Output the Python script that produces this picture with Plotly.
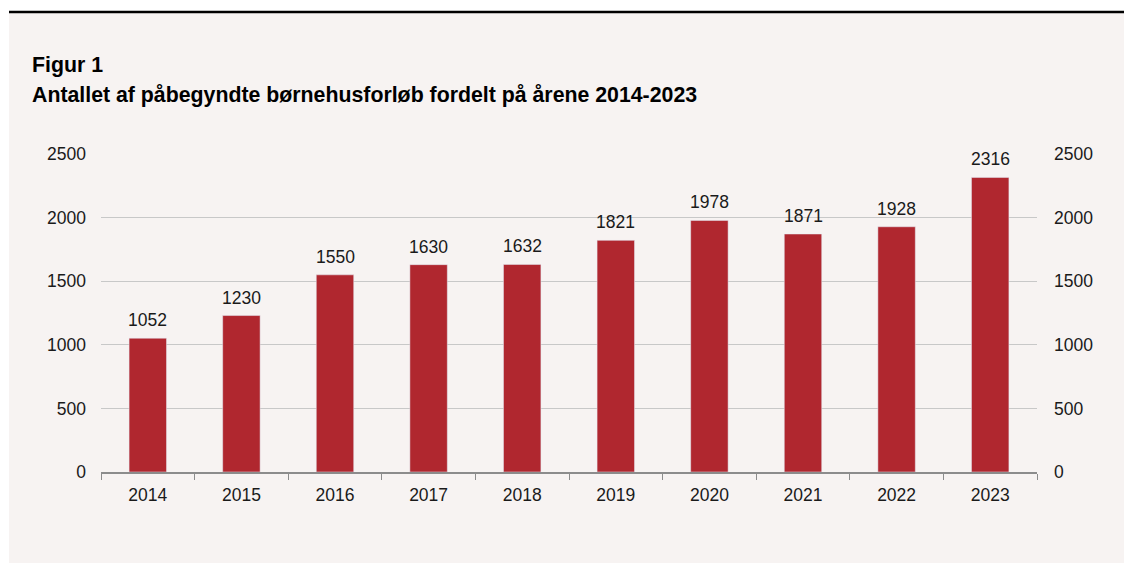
import plotly.graph_objects as go

years = ["2014", "2015", "2016", "2017", "2018", "2019", "2020", "2021", "2022", "2023"]
counts = [1052, 1230, 1550, 1630, 1632, 1821, 1978, 1871, 1928, 2316]
tick_vals = [0, 500, 1000, 1500, 2000, 2500]

bar_color = "#b0272f"
panel_bg = "#f7f3f2"
font_family = "Liberation Sans, Arial, sans-serif"

# page offset of the figure (body margin)
OFF = 8
# figure size in pixels
W, H = 1132 - OFF, 563 - OFF
# plot area in page pixels
PL, PR, PT, PB = 101, 1037, 154, 472
L, T = PL - OFF, PT - OFF
R, B = W - (PR - OFF), H - (PB - OFF)
pw, ph = W - L - R, H - T - B

def px_x(p):  # page pixel -> paper fraction
    return (p - PL) / pw

def px_y(p):
    return (PB - p) / ph

fig = go.Figure()
fig.add_trace(go.Bar(x=years, y=counts, marker=dict(color=bar_color, line=dict(width=0)),
                     hoverinfo="x+y", showlegend=False))
fig.add_trace(go.Bar(x=years, y=counts, yaxis="y2", marker=dict(color="rgba(0,0,0,0)"),
                     hoverinfo="skip", showlegend=False))

for i, v in enumerate(counts):
    fig.add_annotation(x=i, y=v, xref="x", yref="y", text=str(v), showarrow=False,
                       yanchor="bottom", yshift=6,
                       font=dict(size=17.5, color="#1a1a1a", family=font_family))

shapes = [
    dict(type="rect", xref="paper", yref="paper", x0=px_x(9), x1=px_x(1140),
         y0=px_y(570), y1=px_y(12), fillcolor=panel_bg, line=dict(width=0), layer="below"),
    dict(type="line", xref="paper", yref="paper", x0=px_x(9), x1=px_x(1140),
         y0=px_y(12), y1=px_y(12), line=dict(color="black", width=2.5)),
]

fig.add_annotation(xref="paper", yref="paper", x=px_x(30), y=px_y(50.5), xanchor="left",
                   yanchor="top", showarrow=False, align="left",
                   text="<b>Figur 1</b>", font=dict(size=21.3, color="black", family=font_family))
fig.add_annotation(xref="paper", yref="paper", x=px_x(30), y=px_y(81), xanchor="left",
                   yanchor="top", showarrow=False, align="left",
                   text="<b>Antallet af påbegyndte børnehusforløb fordelt på årene 2014-2023</b>",
                   font=dict(size=21.3, color="black", family=font_family))

axis_font = dict(size=17.5, color="#1a1a1a", family=font_family)
fig.update_layout(
    width=W, height=H,
    margin=dict(l=L, r=R, t=T, b=B, pad=0),
    paper_bgcolor="white",
    plot_bgcolor="rgba(0,0,0,0)",
    bargap=0.6,
    barmode="overlay",
    shapes=shapes,
    xaxis=dict(type="category", range=[-0.5, 9.5], showgrid=False, showline=True,
               linecolor="#8c8c8c", linewidth=1.5, ticks="outside", ticklen=6,
               tickcolor="#8c8c8c", tickwidth=1, tickson="boundaries",
               tickfont=axis_font, tickangle=0, ticklabelstandoff=6),
    yaxis=dict(range=[0, 2500], tickvals=tick_vals, showgrid=True, gridcolor="#c8c8c8", gridwidth=1,
               zeroline=False, showline=False, ticks="", tickfont=axis_font, ticklabelstandoff=14),
    yaxis2=dict(range=[0, 2500], tickvals=tick_vals, overlaying="y", side="right", showgrid=False,
                zeroline=False, showline=False, ticks="", tickfont=axis_font, ticklabelstandoff=16),
)

fig.write_html("out.html")
